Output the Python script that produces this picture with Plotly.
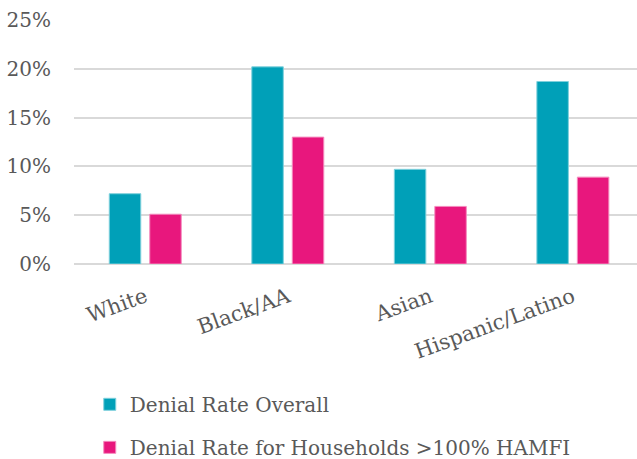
import plotly.graph_objects as go

categories = ["White", "Black/AA", "Asian", "Hispanic/Latino"]
overall = [0.072, 0.202, 0.097, 0.187]
above_100 = [0.051, 0.130, 0.059, 0.089]
series_names = ["Denial Rate Overall", "Denial Rate for Households >100% HAMFI"]
tick_vals = [0, 0.05, 0.10, 0.15, 0.20, 0.25]
tick_text = ["0%", "5%", "10%", "15%", "20%", "25%"]

TEAL = "#00A0B8"
PINK = "#E8177D"
FONT = "DejaVu Serif"
GRAY = "#595959"

fig = go.Figure()
fig.add_trace(go.Bar(x=categories, y=overall, name=series_names[0],
                     marker=dict(color=TEAL, line=dict(color="#7FD0DC", width=1)),
                     legend="legend"))
fig.add_trace(go.Bar(x=categories, y=above_100, name=series_names[1],
                     marker=dict(color=PINK, line=dict(color="#F48BBE", width=1)),
                     legend="legend2"))

legend_common = dict(font=dict(family=FONT, size=20, color=GRAY),
                     bgcolor="rgba(0,0,0,0)", xanchor="left", yanchor="middle",
                     itemwidth=30)
fig.update_layout(
    width=637, height=459,
    margin=dict(l=74, r=0, t=20, b=195, autoexpand=False),
    paper_bgcolor="white", plot_bgcolor="white",
    barmode="group", bargap=0.432, bargroupgap=0.222,
    showlegend=True,
    legend=dict(x=0.028, y=-0.575, **legend_common),
    legend2=dict(x=0.028, y=-0.7515, **legend_common),
    xaxis=dict(tickangle=-20, tickfont=dict(family=FONT, size=21, color=GRAY),
               range=[-0.5, 3.45],
               showline=False, ticks="", showgrid=False, automargin=False,
               ticklabelstandoff=16),
    yaxis=dict(range=[0, 0.25], tickvals=tick_vals, ticktext=tick_text,
               tickfont=dict(family=FONT, size=20, color=GRAY),
               showgrid=True, gridcolor="#D9D9D9", gridwidth=2,
               zeroline=True, zerolinecolor="#D9D9D9", zerolinewidth=2,
               ticks="", ticklabelstandoff=22, automargin=False),
)

fig.write_html("out.html",
               config={"displayModeBar": False},
               post_script="document.body.style.margin='0';document.body.style.overflow='hidden';")
